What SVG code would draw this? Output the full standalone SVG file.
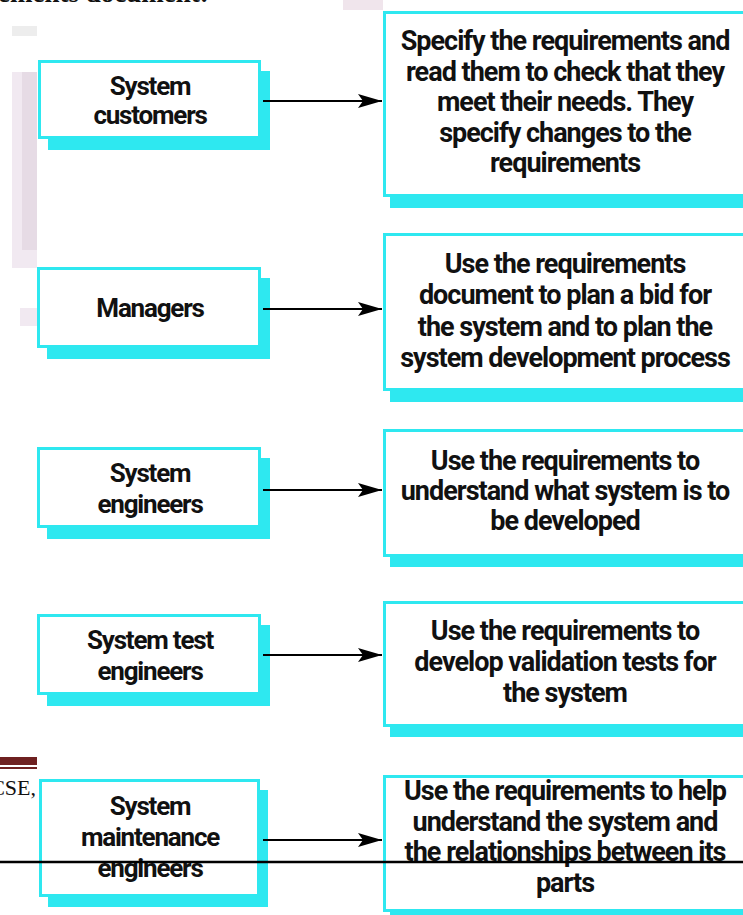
<svg xmlns="http://www.w3.org/2000/svg" width="743" height="915" viewBox="0 0 743 915">
<defs>
<style>
.shadow{fill:#2ee8f0}
.box{fill:#ffffff;stroke:#2ee8f0;stroke-width:3}
.lt{font-family:Roboto,"Liberation Sans",sans-serif;font-weight:700;font-size:26px;letter-spacing:-1.2px;fill:#111;text-anchor:middle}
.rt{font-family:Roboto,"Liberation Sans",sans-serif;font-weight:700;font-size:27px;letter-spacing:-1px;fill:#111;text-anchor:middle}
.conn{stroke:#000;stroke-width:2;fill:none;marker-end:url(#arr)}
.bg1{fill:#f1e9f1}
.bg2{fill:#e6dbe5}
</style>
<marker id="arr" viewBox="0 0 24 14" refX="24" refY="7" markerWidth="24" markerHeight="14" markerUnits="userSpaceOnUse" orient="auto">
<path d="M0,0 L24,7 L0,14 L5,7 Z" fill="#000"/>
</marker>
</defs>
<rect width="743" height="915" fill="#ffffff"/>

<g id="background">
<rect x="12" y="26" width="25" height="10" fill="#ededed"/>
<rect x="343" y="0" width="40" height="10" fill="#f0e5ec"/>
<rect x="12" y="72" width="25" height="196" class="bg1"/>
<rect x="22" y="72" width="15" height="196" class="bg2"/>
<rect x="20" y="250" width="17" height="18" class="bg1"/>
<rect x="20" y="308" width="17" height="18" class="bg1"/>
<text x="-2" y="1.5" font-family="Liberation Serif,serif" font-weight="bold" font-size="27" fill="#111">ements document:</text>
<rect x="0" y="757" width="37" height="8" fill="#6e2020"/>
<rect x="0" y="767" width="37" height="2" fill="#6e2020"/>
<text x="36" y="795" font-family="Liberation Serif,serif" font-size="22" fill="#111" text-anchor="end">CSE,</text>
</g>

<g id="customers">
<rect class="shadow" x="48" y="71" width="222" height="79"/>
<rect class="box" x="39.5" y="61.5" width="220" height="76"/>
<text class="lt" x="150" y="95">System</text>
<text class="lt" x="150" y="124">customers</text>
</g>
<g id="managers">
<rect class="shadow" x="47" y="278" width="223" height="81"/>
<rect class="box" x="38.5" y="268.5" width="221" height="78"/>
<text class="lt" x="150" y="317">Managers</text>
</g>
<g id="sysengineers">
<rect class="shadow" x="47" y="458" width="223" height="81"/>
<rect class="box" x="38.5" y="448.5" width="221" height="78"/>
<text class="lt" x="150" y="482">System</text>
<text class="lt" x="150" y="513">engineers</text>
</g>
<g id="testengineers">
<rect class="shadow" x="47" y="625" width="223" height="81"/>
<rect class="box" x="38.5" y="615.5" width="221" height="78"/>
<text class="lt" x="150" y="649">System test</text>
<text class="lt" x="150" y="680">engineers</text>
</g>
<g id="maintenance">
<rect class="shadow" x="48" y="790" width="220" height="117"/>
<rect class="box" x="40.5" y="780.5" width="218" height="115"/>
<text class="lt" x="150" y="815">System</text>
<text class="lt" x="150" y="846">maintenance</text>
<text class="lt" x="150" y="877">engineers</text>
</g>

<g id="r1">
<rect class="shadow" x="390" y="22" width="380" height="186"/>
<rect class="box" x="384.5" y="12.5" width="380" height="183"/>
<text class="rt" x="565" y="50">Specify the requirements and</text>
<text class="rt" x="565" y="80.5">read them to check that they</text>
<text class="rt" x="565" y="111">meet their needs. They</text>
<text class="rt" x="565" y="141.5">specify changes to the</text>
<text class="rt" x="565" y="172">requirements</text>
</g>
<g id="r2">
<rect class="shadow" x="390" y="244" width="380" height="158"/>
<rect class="box" x="384.5" y="234.5" width="380" height="155"/>
<text class="rt" x="565" y="273">Use the requirements</text>
<text class="rt" x="565" y="304">document to plan a bid for</text>
<text class="rt" x="565" y="336">the system and to plan the</text>
<text class="rt" x="565" y="367">system development process</text>
</g>
<g id="r3">
<rect class="shadow" x="390" y="440" width="380" height="127"/>
<rect class="box" x="384.5" y="430.5" width="380" height="125"/>
<text class="rt" x="565" y="470">Use the requirements to</text>
<text class="rt" x="565" y="500">understand what system is to</text>
<text class="rt" x="565" y="530">be developed</text>
</g>
<g id="r4">
<rect class="shadow" x="390" y="612" width="380" height="125"/>
<rect class="box" x="384.5" y="602.5" width="380" height="123"/>
<text class="rt" x="565" y="640">Use the requirements to</text>
<text class="rt" x="565" y="671">develop validation tests for</text>
<text class="rt" x="565" y="702">the system</text>
</g>
<g id="r5">
<rect class="shadow" x="390" y="786" width="380" height="140"/>
<rect class="box" x="384.5" y="776.5" width="380" height="134"/>
<text class="rt" x="565" y="800">Use the requirements to help</text>
<text class="rt" x="565" y="831">understand the system and</text>
<text class="rt" x="565" y="861">the relationships between its</text>
<text class="rt" x="565" y="892">parts</text>
</g>

<g id="connectors">
<line class="conn" x1="263" y1="101" x2="382" y2="101"/>
<line class="conn" x1="263" y1="309" x2="382" y2="309"/>
<line class="conn" x1="263" y1="490" x2="382" y2="490"/>
<line class="conn" x1="263" y1="655" x2="382" y2="655"/>
<line class="conn" x1="263" y1="840" x2="382" y2="840"/>
</g>

<g id="footer-rule">
<line x1="0" y1="862" x2="743" y2="862" stroke="#000" stroke-width="2.5"/>
</g>
</svg>
